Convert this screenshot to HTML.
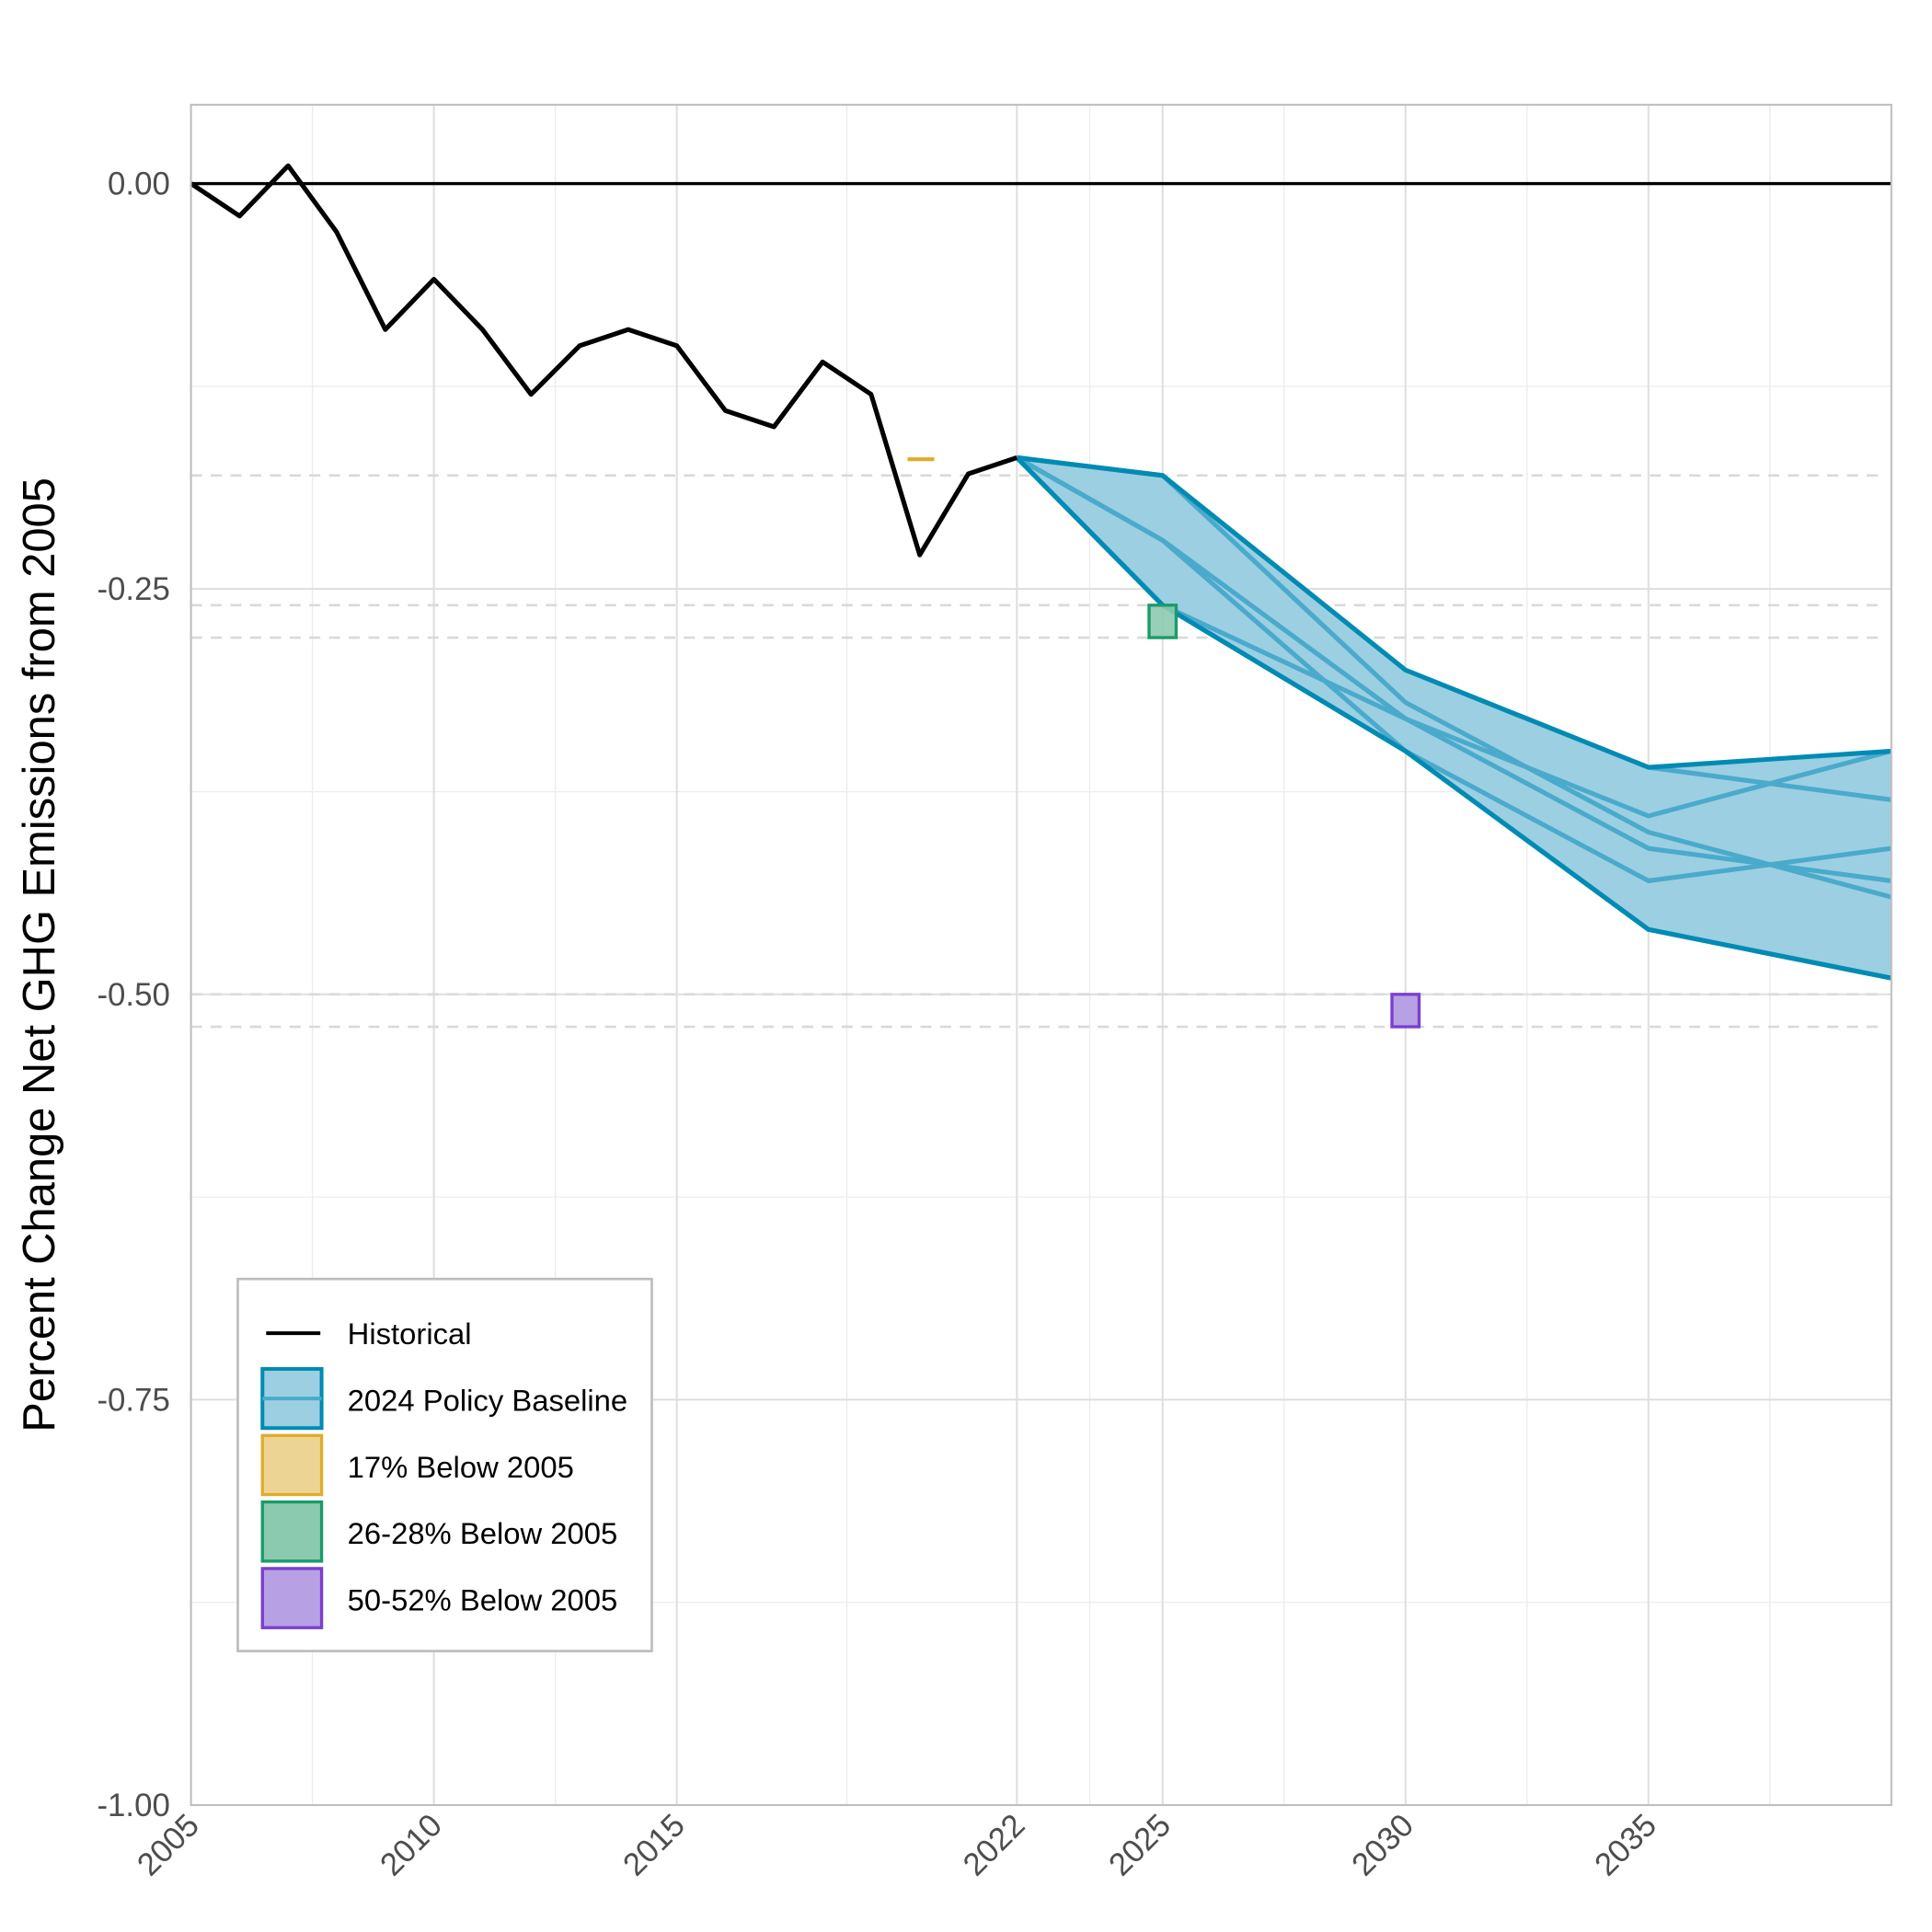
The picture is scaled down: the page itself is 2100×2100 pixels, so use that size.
<!DOCTYPE html>
<html><head><meta charset="utf-8"><style>
html,body{margin:0;padding:0;background:#fff;}
svg{display:block;font-family:"Liberation Sans",Arial,sans-serif;}
</style></head><body>
<svg id="chart" width="2100" height="2100" viewBox="0 0 1568 1568" xmlns="http://www.w3.org/2000/svg">
<rect width="1568" height="1568" fill="#fff"/>
<g id="grid"></g>
<g id="refs"></g>
<g id="proj"></g>
<g id="hist"></g>
<g id="marks"></g>
<rect x="155" y="85" width="1380" height="1380" fill="none" stroke="#bdbdbd" stroke-width="1.5"/>
<g id="axes"></g>
<text transform="translate(44,775) rotate(-90)" text-anchor="middle" font-size="36.5" fill="#000">Percent Change Net GHG Emissions from 2005</text>
<g>
<rect x="193" y="1038" width="336" height="302" fill="#fff" stroke="#bdbdbd" stroke-width="2"/>
<line x1="216" y1="1082" x2="260" y2="1082" stroke="#000" stroke-width="3"/>
<text x="282" y="1091" font-size="24.5">Historical</text>
<rect x="213" y="1111" width="48" height="48" fill="#9ccfe1" stroke="#008bb4" stroke-width="3"/>
<line x1="213" y1="1135" x2="261" y2="1135" stroke="#4aaacc" stroke-width="3"/>
<text x="282" y="1145" font-size="24.5">2024 Policy Baseline</text>
<rect x="213" y="1165" width="48" height="48" fill="#ecd594" stroke="#e0ac2b" stroke-width="2.5"/>
<text x="282" y="1199" font-size="24.5">17% Below 2005</text>
<rect x="213" y="1219" width="48" height="48" fill="#8ccab0" stroke="#1a9b6a" stroke-width="2.5"/>
<text x="282" y="1253" font-size="24.5">26-28% Below 2005</text>
<rect x="213" y="1273" width="48" height="48" fill="#b8a0e4" stroke="#7a3fcf" stroke-width="2.5"/>
<text x="282" y="1307" font-size="24.5">50-52% Below 2005</text>
</g>
</svg>
<script>
const histYears=[2005,2006,2007,2008,2009,2010,2011,2012,2013,2014,2015,2016,2017,2018,2019,2020,2021,2022];
const histValues=[0,-0.02,0.011,-0.03,-0.09,-0.059,-0.09,-0.13,-0.10,-0.09,-0.10,-0.14,-0.15,-0.11,-0.13,-0.229,-0.179,-0.169];
const projYears=[2022,2025,2030,2035,2040];
const scenario1=[-0.169,-0.18,-0.30,-0.36,-0.38];
const scenario2=[-0.169,-0.18,-0.32,-0.40,-0.44];
const scenario3=[-0.169,-0.26,-0.33,-0.39,-0.35];
const scenario4=[-0.169,-0.22,-0.35,-0.43,-0.41];
const scenario5=[-0.169,-0.22,-0.33,-0.41,-0.43];
const scenario6=[-0.169,-0.26,-0.35,-0.46,-0.49];
const refLevels=[-0.18,-0.26,-0.28,-0.50,-0.52];
const yTicks=[0,-0.25,-0.5,-0.75,-1];
const yTickLabels=["0.00","-0.25","-0.50","-0.75","-1.00"];
const xTicks=[2005,2010,2015,2022,2025,2030,2035];
const xMinor=[2007.5,2012.5,2018.5,2023.5,2027.5,2032.5,2037.5];
const yMinor=[-0.125,-0.375,-0.625,-0.875];
const target17=[2020,-0.17];
const target2628=[2025,-0.26,-0.28];
const target5052=[2030,-0.50,-0.52];

const NS="http://www.w3.org/2000/svg";
const L=155,R=1535,T=85,B=1465;
const x=v=>L+(v-2005)/(2040-2005)*(R-L);
const y=v=>149+(-v)*1316;
function mk(tag,attrs,parent){const e=document.createElementNS(NS,tag);for(const k in attrs)e.setAttribute(k,attrs[k]);document.getElementById(parent).appendChild(e);return e;}

xMinor.forEach(v=>{const e=mk('line',{x1:x(v),x2:x(v),y1:T,y2:B,stroke:'#ececec','stroke-width':1},'grid');});
yMinor.forEach(v=>{const e=mk('line',{x1:L,x2:R,y1:y(v),y2:y(v),stroke:'#ececec','stroke-width':1},'grid');});
xTicks.forEach(v=>{const e=mk('line',{x1:x(v),x2:x(v),y1:T,y2:B,stroke:'#dedede','stroke-width':1.5},'grid');});
yTicks.forEach(v=>{const e=mk('line',{x1:L,x2:R,y1:y(v),y2:y(v),stroke:'#dedede','stroke-width':1.5},'grid');});
refLevels.forEach(v=>{const e=mk('line',{x1:L,x2:R-10,y1:y(v),y2:y(v),stroke:'#d9d9d9','stroke-width':2,'stroke-dasharray':'9,7'},'refs');});
const z=mk('line',{x1:L,x2:R,y1:y(0),y2:y(0),stroke:'#000','stroke-width':2.5},'refs');



const scen=[scenario1,scenario2,scenario3,scenario4,scenario5,scenario6];
const upper=projYears.map((_,i)=>Math.max(...scen.map(s=>s[i])));
const lower=projYears.map((_,i)=>Math.min(...scen.map(s=>s[i])));
const pts=(ys,vs)=>ys.map((yr,i)=>x(yr)+','+y(vs[i])).join(' ');
const band=mk('polygon',{points:pts(projYears,upper)+' '+pts(projYears.slice().reverse(),lower.slice().reverse()),fill:'#9ccfe1',stroke:'none'},'proj');


scen.forEach(s=>{const e=mk('polyline',{points:pts(projYears,s),fill:'none',stroke:'#4aaacc','stroke-width':3.8,'stroke-linejoin':'round'},'proj');});
[upper,lower].forEach(s=>{const e=mk('polyline',{points:pts(projYears,s),fill:'none',stroke:'#008bb4','stroke-width':3.8,'stroke-linejoin':'round'},'proj');});

const h=mk('polyline',{points:pts(histYears,histValues),fill:'none',stroke:'#000','stroke-width':3.8,'stroke-linejoin':'round'},'hist');



const m1=mk('line',{x1:x(target17[0]-0.25),x2:x(target17[0]+0.3),y1:y(target17[1]),y2:y(target17[1]),stroke:'#e0ac2b','stroke-width':3},'marks');


const m2=mk('rect',{x:x(target2628[0])-11,y:y(target2628[1]),width:22,height:y(target2628[2])-y(target2628[1]),fill:'#8ccab0','fill-opacity':0.9,stroke:'#1a9b6a','stroke-width':2.5},'marks');


const m3=mk('rect',{x:x(target5052[0])-11,y:y(target5052[1]),width:22,height:y(target5052[2])-y(target5052[1]),fill:'#b8a0e4',stroke:'#7a3fcf','stroke-width':2.5},'marks');



yTicks.forEach((v,i)=>{const e=mk('text',{x:138,y:y(v)+9,'text-anchor':'end','font-size':26,fill:'#4d4d4d'},'axes');e.textContent=yTickLabels[i];});
xTicks.forEach(v=>{const e=mk('text',{transform:`translate(${x(v)+8},${B+18}) rotate(-45)`,'text-anchor':'end','font-size':26,fill:'#4d4d4d'},'axes');e.textContent=String(v);});
</script>
</body></html>
